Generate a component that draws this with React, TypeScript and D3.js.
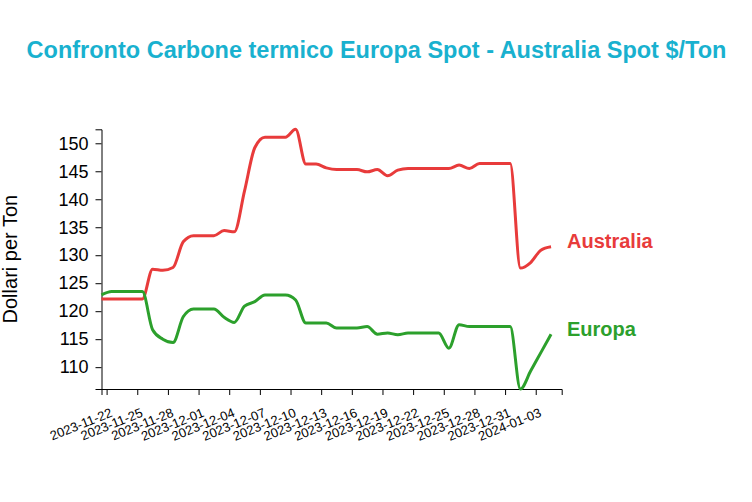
import React, { useEffect, useRef } from "react";
import * as d3 from "d3";

const TITLE = "Confronto Carbone termico Europa Spot - Australia Spot $/Ton";
const Y_LABEL = "Dollari per Ton";

const dates: string[] = [
  "2023-11-21", "2023-11-22", "2023-11-23", "2023-11-24", "2023-11-25", "2023-11-26", "2023-11-27",
  "2023-11-28", "2023-11-29", "2023-11-30", "2023-12-01", "2023-12-02", "2023-12-03", "2023-12-04",
  "2023-12-05", "2023-12-06", "2023-12-07", "2023-12-08", "2023-12-09", "2023-12-10", "2023-12-11",
  "2023-12-12", "2023-12-13", "2023-12-14", "2023-12-15", "2023-12-16", "2023-12-17", "2023-12-18",
  "2023-12-19", "2023-12-20", "2023-12-21", "2023-12-22", "2023-12-23", "2023-12-24", "2023-12-25",
  "2023-12-26", "2023-12-27", "2023-12-28", "2023-12-29", "2023-12-30", "2023-12-31", "2024-01-01",
  "2024-01-02", "2024-01-03", "2024-01-04",
];

const australia: number[] = [
  122.2, 122.2, 122.2, 122.2, 122.2, 127.5, 127.3, 127.8, 132.4, 133.5,
  133.5, 133.5, 134.4, 134.2, 141.5, 149.2, 151.1, 151.1, 151.1, 152.5,
  146.3, 146.3, 145.6, 145.3, 145.3, 145.3, 144.9, 145.3, 144.2, 145.2,
  145.5, 145.5, 145.5, 145.5, 145.5, 146.1, 145.5, 146.4, 146.4, 146.4,
  146.4, 127.7, 128.7, 130.9, 131.5,
];

const europa: number[] = [
  122.9, 123.5, 123.5, 123.5, 123.5, 116.7, 115.0, 114.4, 119.0, 120.4,
  120.4, 120.4, 118.9, 118.0, 120.9, 121.7, 122.9, 122.9, 122.9, 122.0,
  117.9, 117.9, 117.9, 117.0, 117.0, 117.0, 117.25, 115.9, 116.1, 115.8,
  116.1, 116.1, 116.1, 116.1, 113.4, 117.6, 117.25, 117.25, 117.25, 117.25,
  117.25, 106.1, 109.3, 112.6, 115.9,
];

const xTickLabels: string[] = [
  "2023-11-22", "2023-11-25", "2023-11-28", "2023-12-01", "2023-12-04", "2023-12-07",
  "2023-12-10", "2023-12-13", "2023-12-16", "2023-12-19", "2023-12-22", "2023-12-25",
  "2023-12-28", "2023-12-31", "2024-01-03",
];

const yTicks: number[] = [110, 115, 120, 125, 130, 135, 140, 145, 150];

const seriesNames = ["Australia", "Europa"];
const seriesColors = ["#e83b3b", "#2ca02c"];

const W = 752;
const H = 502;
const M = { left: 101.5, top: 129.3, right: 561.7, bottom: 389 };
const FONT = "'Liberation Sans', Arial, Helvetica, sans-serif";

export default function App() {
  const ref = useRef<SVGSVGElement | null>(null);

  useEffect(() => {
    const svg = d3.select(ref.current);
    svg.selectAll("*").remove();

    const parse = d3.timeParse("%Y-%m-%d");
    const xDates = dates.map((d) => d3.timeHour.offset(parse(d) as Date, 12));
    const tickDates = xTickLabels.map((d) => parse(d) as Date);

    const x = d3
      .scaleTime()
      .domain([xDates[0], d3.timeHour.offset(parse("2024-01-05") as Date, 13)])
      .range([M.left, M.right]);

    const allVals = australia.concat(europa);
    const y = d3
      .scaleLinear()
      .domain(d3.extent(allVals) as [number, number])
      .range([M.bottom, M.top]);

    // title
    svg
      .append("text")
      .attr("x", W / 2 + 0.5)
      .attr("y", 58)
      .attr("text-anchor", "middle")
      .attr("font-family", FONT)
      .attr("font-weight", "bold")
      .attr("font-size", 23.5)
      .attr("fill", "#19b1cf")
      .text(TITLE);

    // x axis
    const gx = svg
      .append("g")
      .attr("transform", `translate(0,${M.bottom})`)
      .call(
        d3
          .axisBottom(x)
          .tickValues(tickDates)
          .tickFormat(d3.timeFormat("%Y-%m-%d") as any)
          .tickSizeOuter(6)
      );
    gx.attr("font-family", FONT);
    gx.selectAll("text")
      .attr("font-size", 13)
      .attr("fill", "#000")
      .attr("y", 0)
      .attr("dy", 0)
      .attr("text-anchor", "end")
      .attr("transform", "translate(6,27) rotate(-22)");
    gx.selectAll("line, path").attr("stroke", "#000");

    // y axis
    const gy = svg
      .append("g")
      .attr("transform", `translate(${M.left},0)`)
      .call(d3.axisLeft(y).tickValues(yTicks).tickSizeOuter(6).tickPadding(7));
    gy.attr("font-family", FONT);
    gy.selectAll("text").attr("font-size", 18).attr("fill", "#000");
    gy.selectAll("line, path").attr("stroke", "#000");

    // y label
    svg
      .append("text")
      .attr("transform", `translate(17,${(M.top + M.bottom) / 2}) rotate(-90)`)
      .attr("text-anchor", "middle")
      .attr("font-family", FONT)
      .attr("font-size", 20)
      .attr("fill", "#000")
      .text(Y_LABEL);

    const line = d3
      .line<number>()
      .x((_, i) => x(xDates[i]))
      .y((v) => y(v))
      .curve(d3.curveMonotoneX);

    [australia, europa].forEach((vals, si) => {
      svg
        .append("path")
        .attr("d", line(vals) as string)
        .attr("fill", "none")
        .attr("stroke", seriesColors[si])
        .attr("stroke-width", 3);
      svg
        .append("text")
        .attr("x", 567)
        .attr("y", y(vals[vals.length - 1]) + 1.5)
        .attr("font-family", FONT)
        .attr("font-weight", "bold")
        .attr("font-size", 20)
        .attr("fill", seriesColors[si])
        .text(seriesNames[si]);
    });
  }, []);

  return (
    <svg
      ref={ref}
      width={W}
      height={H}
      style={{ position: "absolute", left: 0, top: 0, background: "#fff" }}
    />
  );
}
